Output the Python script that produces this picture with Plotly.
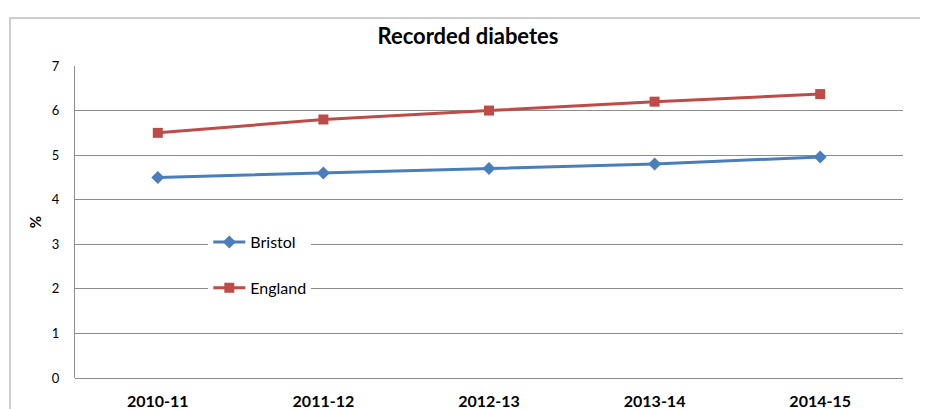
import plotly.graph_objects as go

# Chart data
years = ["2010-11", "2011-12", "2012-13", "2013-14", "2014-15"]
bristol = [4.5, 4.6, 4.7, 4.8, 4.96]
england = [5.5, 5.8, 6.0, 6.2, 6.37]

FONT = "Lato"


def main() -> None:
    fig = go.Figure()
    fig.add_trace(
        go.Scatter(
            x=years, y=bristol, name="Bristol", mode="lines+markers",
            line=dict(color="#4A7EBB", width=3),
            marker=dict(symbol="diamond", size=10, color="#4A7EBB"),
            legendgroup="b",
        )
    )
    fig.add_trace(
        go.Scatter(
            x=years, y=england, name="England", mode="lines+markers",
            line=dict(color="#BE4B48", width=3),
            marker=dict(symbol="square", size=10, color="#BE4B48"),
            legendgroup="e",
        )
    )
    # Outer chart border
    fig.add_shape(
        type="rect", xref="paper", yref="paper",
        x0=-0.0785, x1=1.2, y0=-0.3, y1=1.154,
        line=dict(color="#BFBFBF", width=1.5), layer="below",
    )
    # page body adds an 8px offset, so the figure is sized to fit inside
    fig.update_layout(
        width=920, height=401,
        margin=dict(l=67, r=25, t=58, b=31, autoexpand=False),
        paper_bgcolor="white", plot_bgcolor="white",
        font=dict(family=FONT, color="#000000"),
        title=dict(
            text="<b>Recorded diabetes</b>", x=0.5, xanchor="center",
            y=0.93, yanchor="middle", font=dict(size=22, family=FONT),
        ),
        legend=dict(
            x=0.161, y=0.49, xanchor="left", yanchor="top",
            bgcolor="white", font=dict(size=16, family=FONT),
            tracegroupgap=22, itemwidth=32, entrywidth=82,
        ),
        xaxis=dict(
            type="category", range=[-0.5, 4.5], showgrid=False,
            showline=False, ticks="", automargin=False,
            tickfont=dict(size=16, family=FONT, color="#000000", weight="bold"),
            ticklabelstandoff=12, fixedrange=True,
        ),
        yaxis=dict(
            range=[0, 7], dtick=1, showgrid=True, gridcolor="#8C8C8C",
            gridwidth=1, showline=True, linecolor="#8C8C8C", linewidth=1,
            zeroline=True, zerolinecolor="#8C8C8C", zerolinewidth=1,
            ticks="", tickfont=dict(size=13, family=FONT), automargin=False,
            ticklabelstandoff=12,
            title=dict(text="<b>%</b>", font=dict(size=15), standoff=6),
        ),
        showlegend=True,
    )
    fig.write_html("out.html")


if __name__ == "__main__":
    main()
